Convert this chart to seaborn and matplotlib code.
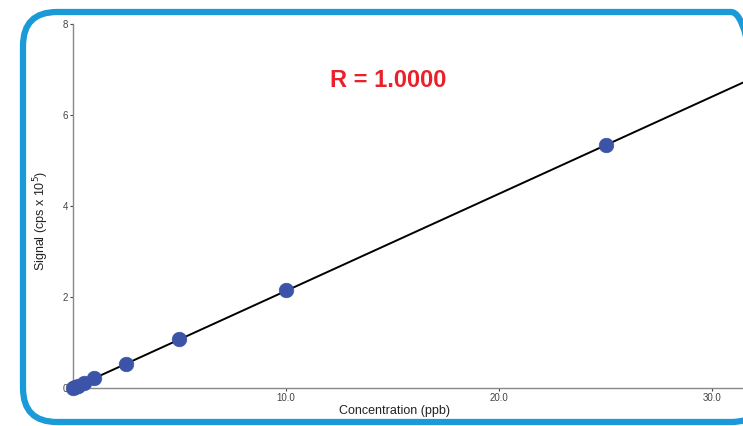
import matplotlib
matplotlib.use("Agg")
import matplotlib.pyplot as plt
from matplotlib.patches import FancyBboxPatch
import seaborn as sns
import pandas as pd

# calibration data
conc = [0.0, 0.1, 0.25, 0.5, 1.0, 2.5, 5.0, 10.0, 25.0]
signal = [0.0, 0.02, 0.05, 0.11, 0.21, 0.53, 1.07, 2.15, 5.33]
x_ticks = [10.0, 20.0, 30.0]
x_labels = ["10.0", "20.0", "30.0"]
y_ticks = [0, 2, 4, 6, 8]

df = pd.DataFrame({"conc": conc, "signal": signal})

sns.set_theme(style="white")
plt.rcParams["font.family"] = ["Liberation Sans", "DejaVu Sans"]

fig = plt.figure(figsize=(7.43, 4.26), dpi=100)
ax = fig.add_axes([0.0982, 0.0892, 0.9018, 0.8545])

ax.set_xlim(0, 31.45)
ax.set_ylim(0, 8)

sns.regplot(data=df, x="conc", y="signal", ax=ax, scatter=False, ci=None,
            truncate=False, line_kws={"color": "black", "lw": 1.4})
sns.scatterplot(data=df, x="conc", y="signal", ax=ax, s=110, color="#3b54a8",
                edgecolor="#3b54a8", linewidth=0.5, zorder=3, clip_on=False)

ax.set_xticks(x_ticks)
ax.set_xticklabels(x_labels)
ax.set_yticks(y_ticks)
ax.tick_params(axis="both", labelsize=7, colors="#444444", length=2.5,
               width=0.8, pad=1, direction="out", bottom=True, left=True)
for side in ["top", "right"]:
    ax.spines[side].set_visible(False)
for side in ["left", "bottom"]:
    ax.spines[side].set_color("#888888")
    ax.spines[side].set_linewidth(1.0)

ax.set_xlabel("Concentration (ppb)", fontsize=9, color="#222222")
ax.set_ylabel("Signal (cps x 10$^5$)", fontsize=9, color="#222222")
ax.xaxis.set_label_coords(0.48, -0.046)
ax.yaxis.set_label_coords(-0.033, 0.46)

ax.text(0.47, 0.846, "R = 1.0000", transform=ax.transAxes, color="#e8212a",
        fontsize=17, fontweight="bold", ha="center", va="center")

frame = FancyBboxPatch((23, 4), 742, 410, boxstyle="round,pad=0,rounding_size=34",
                       transform=None, fill=False, edgecolor="#1a9ad9",
                       linewidth=4.5, zorder=10)
fig.patches.append(frame)

fig.savefig("out.png", dpi=100)
